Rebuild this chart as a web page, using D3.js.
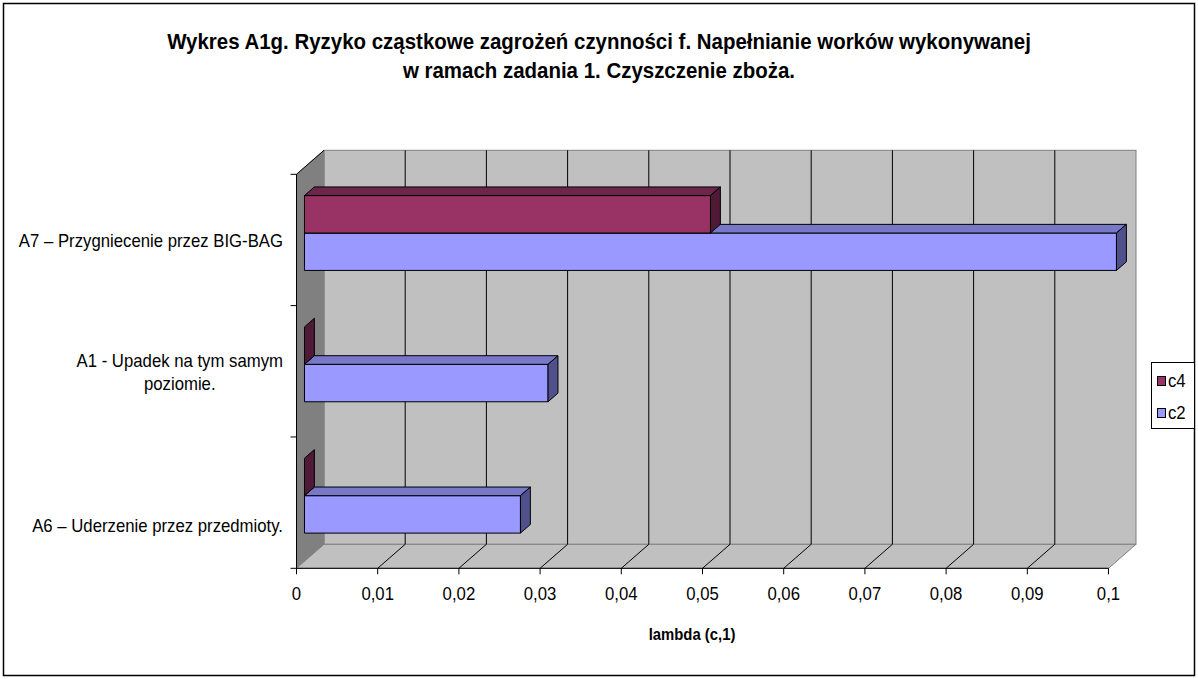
<!DOCTYPE html>
<html>
<head>
<meta charset="utf-8">
<script src="https://cdn.jsdelivr.net/npm/d3@7"></script>
<style>
  body { margin: 0; background: #fff; }
  text { font-family: "Liberation Sans", Arial, sans-serif; fill: #000; }
</style>
</head>
<body>
<svg width="1198" height="679"></svg>
<script>
// data
const titleLines = [
  "Wykres A1g. Ryzyko cząstkowe zagrożeń czynności f. Napełnianie worków wykonywanej",
  "w ramach zadania 1. Czyszczenie zboża."
];
const categories = ["A7", "A1", "A6"];
const categoryLines = [
  ["A7 – Przygniecenie przez BIG-BAG"],
  ["A1 - Upadek na tym samym", "poziomie."],
  ["", "", "A6 – Uderzenie przez przedmioty."]
];
const seriesNames = ["c4", "c2"];
const c4Values = [0.05, 0, 0];
const c2Values = [0.1, 0.03, 0.0266];
const xTicks = [0, 0.01, 0.02, 0.03, 0.04, 0.05, 0.06, 0.07, 0.08, 0.09, 0.1];
const xTitle = "lambda (c,1)";

const seriesValues = { c4: c4Values, c2: c2Values };
const colors = {
  c4: { front: "#993366", top: "#6d2549", side: "#4f1a35" },
  c2: { front: "#9999ff", top: "#7878c8", side: "#50508c" }
};

const SX = 0.93; // text looks a bit squeezed sideways in the reference

const svg = d3.select("svg");

// outer frame
svg.append("rect")
  .attr("x", 3.5).attr("y", 3.5)
  .attr("width", 1191).attr("height", 672)
  .attr("fill", "#fff").attr("stroke", "#000").attr("stroke-width", 1.5);

function label(g, str, x, y, size, weight, anchor) {
  return g.append("text")
    .attr("transform", `translate(${x},${y}) scale(${SX},1)`)
    .attr("font-size", size + "px")
    .attr("font-weight", weight)
    .attr("text-anchor", anchor)
    .text(str);
}

// plot geometry
let plotLeft = 296.5, plotRight = 1108.5, plotTop = 174.3, plotBottom = 568.3;
let DX = 27.5, DY = -24;

const x = d3.scaleLinear().domain([0, 0.1]).range([plotLeft, plotRight]);
const y = d3.scaleBand().domain(categories).range([plotTop, plotBottom])
  .paddingInner(0.43).paddingOuter(0.215);
const ys = d3.scaleBand().domain(seriesNames).range([0, y.bandwidth()]);
const fmt = d3.formatLocale({ decimal: ",", thousands: " ", grouping: [3], currency: ["", ""] }).format("~g");

// walls
let walls = svg.append("g");
walls.append("rect")
  .attr("x", plotLeft + DX).attr("y", plotTop + DY)
  .attr("width", plotRight - plotLeft).attr("height", plotBottom - plotTop)
  .attr("fill", "#c0c0c0").attr("stroke", "#808080");
walls.append("polygon")
  .attr("points", [[plotLeft, plotTop], [plotLeft + DX, plotTop + DY], [plotLeft + DX, plotBottom + DY], [plotLeft, plotBottom]].join(" "))
  .attr("fill", "#808080").attr("stroke", "#808080");
walls.append("polygon")
  .attr("points", [[plotLeft, plotBottom], [plotRight, plotBottom], [plotRight + DX, plotBottom + DY], [plotLeft + DX, plotBottom + DY]].join(" "))
  .attr("fill", "#c0c0c0").attr("stroke", "#808080");

// gridlines on back wall and floor
let grid = svg.append("g").attr("stroke", "#000").attr("stroke-width", 1);
xTicks.slice(1, -1).forEach(t => {
  grid.append("line")
    .attr("x1", x(t) + DX).attr("x2", x(t) + DX)
    .attr("y1", plotTop + DY).attr("y2", plotBottom + DY);
  grid.append("line")
    .attr("x1", x(t)).attr("x2", x(t) + DX)
    .attr("y1", plotBottom).attr("y2", plotBottom + DY);
});

// axes
let axes = svg.append("g").attr("stroke", "#000").attr("stroke-width", 1);
axes.append("line").attr("x1", plotLeft).attr("x2", plotLeft).attr("y1", plotTop).attr("y2", plotBottom);
axes.append("line").attr("x1", plotLeft).attr("x2", plotLeft + DX).attr("y1", plotTop).attr("y2", plotTop + DY);
axes.append("line").attr("x1", plotLeft).attr("x2", plotRight).attr("y1", plotBottom).attr("y2", plotBottom);
const bounds = categories.map(c => y(c) - y.step() * y.paddingInner() / 2).concat([plotBottom]);
bounds.forEach(b => {
  axes.append("line").attr("x1", plotLeft - 6).attr("x2", plotLeft).attr("y1", b).attr("y2", b);
});
xTicks.forEach(t => {
  axes.append("line").attr("x1", x(t)).attr("x2", x(t)).attr("y1", plotBottom).attr("y2", plotBottom + 6);
});

// bars
const f1 = 0.29, bd = 0.36;
const ox = f1 * DX, oy = f1 * DY, bdx = bd * DX, bdy = bd * DY;
let bars = svg.append("g").attr("stroke", "#000").attr("stroke-width", 1).attr("stroke-linejoin", "round");
categories.forEach((cat, i) => {
  ["c2", "c4"].forEach(s => {
    const v = seriesValues[s][i];
    const x0 = x(0) + ox, x1 = x(v) + ox;
    const y0 = y(cat) + ys(s) + oy, y1 = y0 + ys.bandwidth();
    const col = colors[s];
    if (x1 - x0 > 0.5) {
      bars.append("rect")
        .attr("x", x0).attr("y", y0).attr("width", x1 - x0).attr("height", y1 - y0)
        .attr("fill", col.front);
      bars.append("polygon")
        .attr("points", [[x0, y0], [x0 + bdx, y0 + bdy], [x1 + bdx, y0 + bdy], [x1, y0]].join(" "))
        .attr("fill", col.top);
    }
    bars.append("polygon")
      .attr("points", [[x1, y0], [x1 + bdx, y0 + bdy], [x1 + bdx, y1 + bdy], [x1, y1]].join(" "))
      .attr("fill", col.side);
  });
});

// text
let texts = svg.append("g");
label(texts, titleLines[0], 599, 49, 22, "bold", "middle");
label(texts, titleLines[1], 599, 78, 22, "bold", "middle");

xTicks.forEach(t => label(texts, fmt(t), x(t), 600, 18, "normal", "middle"));
label(texts, xTitle, 692, 640, 16, "bold", "middle");

const lineH = 22.5;
categoryLines.forEach((lines, i) => {
  const cy = y(categories[i]) + y.bandwidth() / 2;
  const n = lines.length;
  // lines are centred on a block whose right edge sits at 283
  let tmp = lines.map(l => label(texts, l, 0, 0, 18, "normal", "middle"));
  const w = d3.max(tmp, t => t.node().getComputedTextLength()) * SX;
  tmp.forEach(t => t.remove());
  lines.forEach((l, j) => {
    if (!l) return;
    label(texts, l, 283 - w / 2, cy + 7 + (j - (n - 1) / 2) * lineH, 18, "normal", "middle");
  });
});

// legend
let legend = svg.append("g");
legend.append("rect")
  .attr("x", 1151.5).attr("y", 362.5).attr("width", 43).attr("height", 66)
  .attr("fill", "#fff").attr("stroke", "#000");
seriesNames.forEach((s, i) => {
  const ly = 376 + i * 32;
  legend.append("rect")
    .attr("x", 1157.5).attr("y", ly + 0.5).attr("width", 8).attr("height", 9)
    .attr("fill", colors[s].front).attr("stroke", "#000");
  label(legend, s, 1168, ly + 11, 18, "normal", "start");
});
</script>
</body>
</html>
